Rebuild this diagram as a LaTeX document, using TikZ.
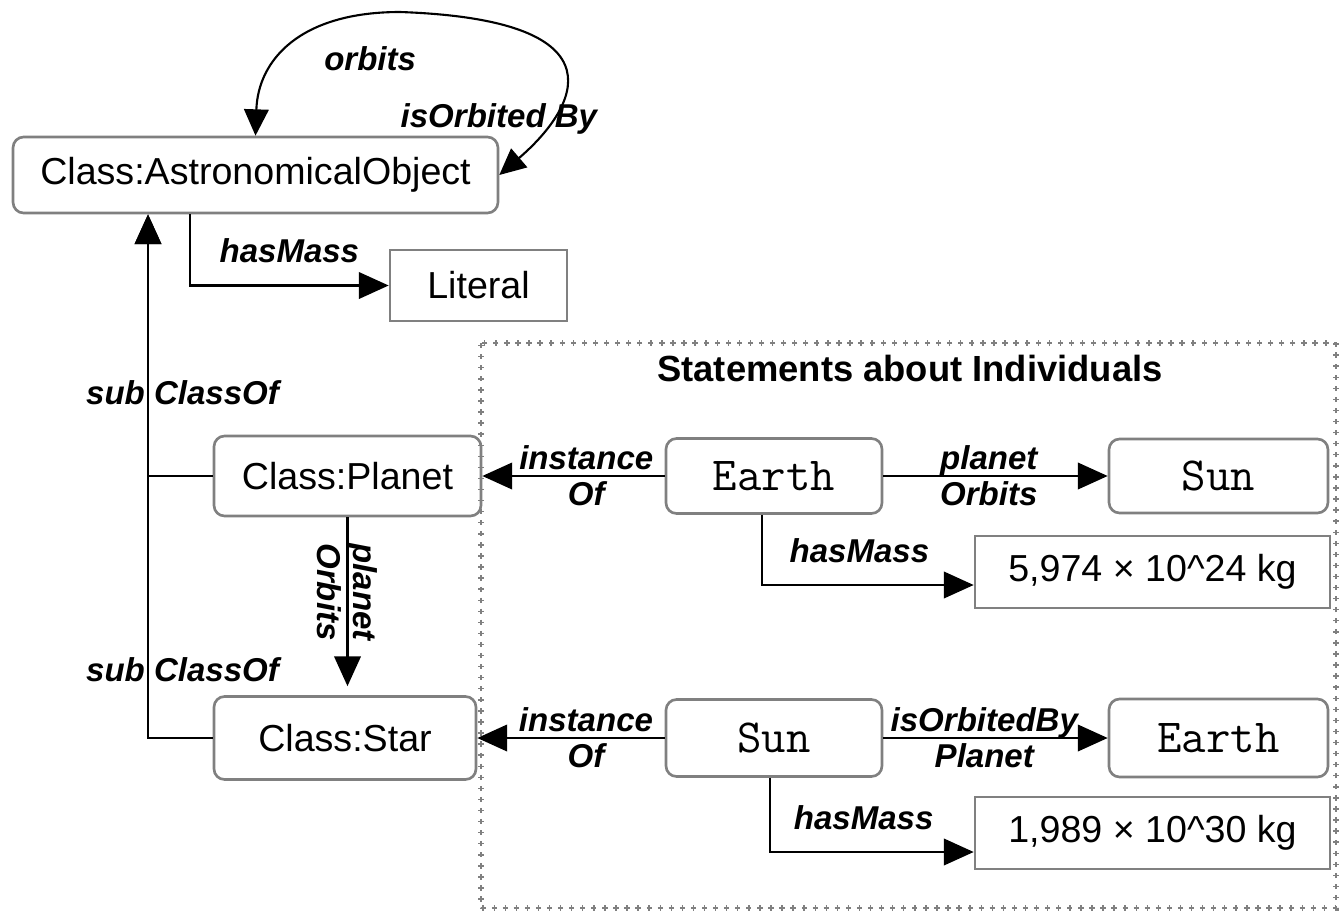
\documentclass[tikz,border=0pt]{standalone}
\usepackage{fontspec}
\setmainfont{Liberation Sans}
\usetikzlibrary{positioning,arrows.meta,calc}

\begin{document}
\begin{tikzpicture}[x=0.02cm,y=-0.02cm,
        box/.style={draw=gray,line width=1.5pt,inner sep=0pt,font=\fontsize{21.4}{25}\selectfont},
        rbox/.style={box,rounded corners=6pt},
        ind/.style={rbox,font=\ttfamily\fontsize{27}{30}\selectfont},
        lbl/.style={font=\bfseries\itshape\fontsize{18.8}{20.5}\selectfont,inner sep=2pt,align=center},
        arr/.style={line width=1.6pt,-{Triangle[length=17pt,width=15pt]}}]
        \useasboundingbox (0,0) rectangle (1339,913);
        \draw[gray,line width=0.8pt,dash pattern=on 3pt off 3.3pt] (481,343) rectangle (1336,908);
        \draw[gray,line width=3pt,dash pattern=on 0.8pt off 5.5pt,dash phase=5.2pt] (481,343) rectangle (1336,908);
        \node[font=\bfseries\fontsize{20.7}{24}\selectfont] (title) at (910,368) {Statements about Individuals};
        \node[rbox,minimum width=9.7cm,minimum height=1.52cm] (ao) at (255.5,175) {Class:AstronomicalObject};
        \node[box,minimum width=3.54cm,minimum height=1.42cm] (literal) at (478.5,285.5) {Literal};
        \node[rbox,minimum width=5.34cm,minimum height=1.6cm] (planet) at (347.5,476) {Class:Planet};
        \node[rbox,minimum width=5.24cm,minimum height=1.66cm] (star) at (345,738) {Class:Star};
        \node[ind,minimum width=4.32cm,minimum height=1.5cm] (earth) at (774,476) {Earth};
        \node[ind,minimum width=4.38cm,minimum height=1.48cm] (sunobj) at (1218.5,476) {Sun};
        \node[box,minimum width=7.1cm,minimum height=1.44cm] (earthmass) at (1152.5,572) {5,974 × 10\textasciicircum 24 kg};
        \node[ind,minimum width=4.32cm,minimum height=1.54cm] (sunind) at (774,738) {Sun};
        \node[ind,minimum width=4.38cm,minimum height=1.56cm] (earthind) at (1218.5,738) {Earth};
        \node[box,minimum width=7.1cm,minimum height=1.44cm] (sunmass) at (1152.5,833) {1,989 × 10\textasciicircum 30 kg};
        \draw[line width=1.2pt,{Triangle[length=15pt,width=14pt]}-{Triangle[length=15pt,width=14pt]}] (ao.east)
            .. controls (575,110) and (630,20) .. (400,12) node[lbl,pos=0.27,xshift=-1.04cm] {isOrbited By}
            .. controls (300,12) and (258,60) .. (ao.north) node[lbl,pos=0.3,xshift=0.9cm,yshift=-0.68cm] {orbits};
        \draw[arr] ([xshift=-1.31cm]ao.south) |- (literal.west) node[lbl,pos=0.75,above=10pt] {hasMass};
        \draw[arr] (planet.west) -| ([xshift=-2.15cm]ao.south) node[lbl,pos=0.66,xshift=0.69cm] {sub ClassOf};
        \draw[arr] (star.west) -| ([xshift=-2.15cm]ao.south) node[lbl,pos=0.565,xshift=0.69cm] {sub ClassOf};
        \draw[arr,shorten >=0.18cm] (planet.south) -- (planet.south |- star.north) node[lbl,pos=0.42,rotate=-90] {planet\\Orbits};
        \draw[arr] (earth) -- (planet) node[lbl,pos=0.43] {instance\\Of};
        \draw[arr] (earth) -- (sunobj) node[lbl,pos=0.47] {planet\\Orbits};
        \draw[arr] ([xshift=-0.24cm]earth.south) |- ([yshift=-0.26cm]earthmass.west) node[lbl,pos=0.73,above=10pt] {hasMass};
        \draw[arr] (sunind) -- (star) node[lbl,pos=0.42] {instance\\Of};
        \draw[arr] (sunind) -- (earthind) node[lbl,pos=0.45] {isOrbitedBy\\Planet};
        \draw[arr] ([xshift=-0.08cm]sunind.south) |- ([yshift=-0.38cm]sunmass.west) node[lbl,pos=0.73,above=10pt] {hasMass};
    \end{tikzpicture}
\end{document}
